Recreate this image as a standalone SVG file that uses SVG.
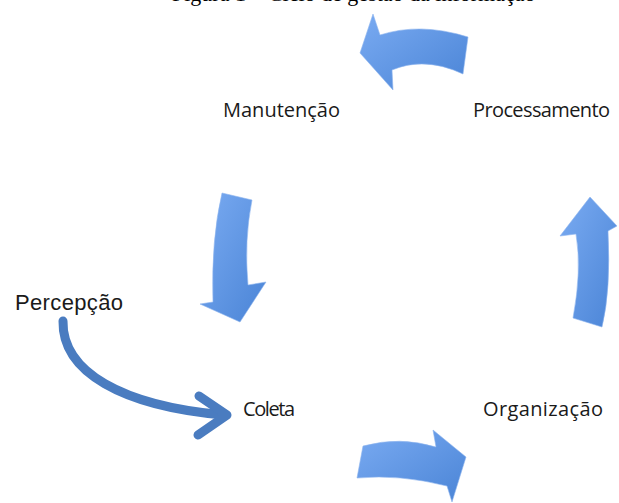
<svg xmlns="http://www.w3.org/2000/svg" width="619" height="503" viewBox="0 0 619 503">
  <style>
    .lbl { font-family: "Open Sans", "DejaVu Sans", sans-serif; font-size: 20px; fill: #1a1a1a; }
    .lbl2 { font-family: "Liberation Sans", Arial, sans-serif; font-size: 22px; fill: #1a1a1a; }
    .cap { font-family: "Liberation Serif", "Times New Roman", serif; font-size: 22px; fill: #000; }
    .blk { fill: url(#g); stroke: #8fb6ee; stroke-width: 0.6; }
    .crv { fill: none; stroke: #4a7cc0; stroke-width: 9; stroke-linecap: round; stroke-linejoin: round; }
  </style>
  <defs>
    <linearGradient id="g" x1="0" y1="0" x2="1" y2="1">
      <stop offset="0" stop-color="#7aabf2"/>
      <stop offset="1" stop-color="#4a84d6"/>
    </linearGradient>
  </defs>
  <rect width="619" height="503" fill="#ffffff"/>
  <text class="cap" x="172" y="1">Figura 1 – Ciclo de gestão da informação</text>

  <g id="connectors">
    <path class="blk" d="M360 53 L373 14 L380 35 Q420 22 468 37 L463 74 Q425 56 392 70 L393 90 Z"/>
    <path class="blk" d="M222 193 L252 200 Q244 240 248 285 L266 282 L240 322 L200 304 L213 302 Q211 240 222 193 Z"/>
    <path class="blk" d="M590 197 L617 226 L608 231 Q611 290 602 327 L573 318 Q582 270 576 234 L560 236 Z"/>
    <path class="blk" d="M363 446 Q400 436 436 447 L433 430 L466 457 L452 502 L447 486 Q400 474 357 478 Z"/>
    <path class="crv" d="M63 321 C62 372 122 406 224 415"/>
    <polyline class="crv" points="199,396 227,415 198,435"/>
  </g>

  <g id="manutencao"><text class="lbl" x="223" y="117" textLength="117">Manutenção</text></g>
  <g id="processamento"><text class="lbl" x="473" y="117" textLength="137">Processamento</text></g>
  <g id="percepcao"><text class="lbl2" x="15" y="310" textLength="108">Percepção</text></g>
  <g id="coleta"><text class="lbl" x="243" y="416" textLength="52">Coleta</text></g>
  <g id="organizacao"><text class="lbl" x="483" y="416" textLength="120">Organização</text></g>
</svg>
